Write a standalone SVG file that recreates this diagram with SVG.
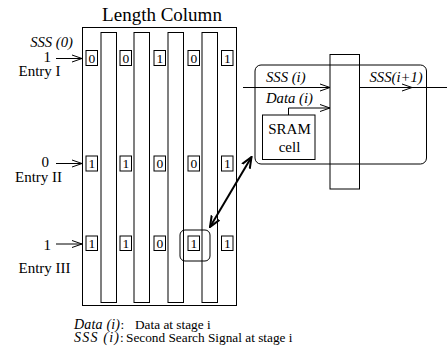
<svg xmlns="http://www.w3.org/2000/svg" width="447" height="352" viewBox="0 0 447 352">
  <style>
    text { font-family: "Liberation Serif", "Times New Roman", serif; fill: #000; }
    .it { font-style: italic; font-size: 14.7px; }
    .ln { fill: none; stroke: #000; stroke-width: 1; }
    .cell { fill: #fff; stroke: #000; stroke-width: 1; }
    .d { font-size: 13.5px; text-anchor: middle; }
    .lbl { font-size: 15px; }
    .leg { font-size: 13.3px; }
    .legi { font-size: 14px; font-style: italic; }
  </style>
  <defs>
    <marker id="open" viewBox="0 0 10 10" refX="10" refY="5" markerWidth="10" markerHeight="10" markerUnits="userSpaceOnUse" orient="auto">
      <path d="M0,1.5 L10,5 L0,8.5" fill="none" stroke="#000" stroke-width="1"/>
    </marker>
    <marker id="bold" viewBox="0 0 12 12" refX="11" refY="6" markerWidth="12" markerHeight="12" markerUnits="userSpaceOnUse" orient="auto-start-reverse">
      <path d="M0,1.5 L11,6 L0,10.5" fill="none" stroke="#000" stroke-width="2"/>
    </marker>
  </defs>

  <!-- length column array -->
  <g id="length-column">
    <text x="162" y="21" font-size="19" text-anchor="middle">Length Column</text>
    <rect class="ln" x="82.5" y="27.5" width="154" height="278"/>
    <rect class="ln" x="101" y="32.5" width="15.5" height="270"/>
    <rect class="ln" x="134" y="32.5" width="15.5" height="270"/>
    <rect class="ln" x="168" y="32.5" width="15.5" height="270"/>
    <rect class="ln" x="202" y="32.5" width="15.5" height="270"/>
  </g>

  <!-- entry I -->
  <g id="entry-1">
    <text class="it" x="73" y="46.5" text-anchor="end">SSS (0)</text>
    <text class="lbl" x="51" y="62" text-anchor="end">1</text>
    <text class="lbl" x="18.5" y="76">Entry I</text>
    <rect class="cell" x="86" y="50.5" width="11.5" height="15"/>
    <text class="d" x="91.8" y="62.5">0</text>
    <rect class="cell" x="120" y="50.5" width="11.5" height="15"/>
    <text class="d" x="125.8" y="62.5">0</text>
    <rect class="cell" x="154" y="50.5" width="11.5" height="15"/>
    <text class="d" x="159.8" y="62.5">1</text>
    <rect class="cell" x="188" y="50.5" width="11.5" height="15"/>
    <text class="d" x="193.8" y="62.5">0</text>
    <rect class="cell" x="221.5" y="50.5" width="11.5" height="15"/>
    <text class="d" x="227.3" y="62.5">1</text>
  </g>

  <!-- entry II -->
  <g id="entry-2">
    <text class="lbl" x="49" y="166.5" text-anchor="end">0</text>
    <text class="lbl" x="15" y="181.5">Entry II</text>
    <rect class="cell" x="86" y="156" width="11.5" height="15"/>
    <text class="d" x="91.8" y="168">1</text>
    <rect class="cell" x="120" y="156" width="11.5" height="15"/>
    <text class="d" x="125.8" y="168">1</text>
    <rect class="cell" x="154" y="156" width="11.5" height="15"/>
    <text class="d" x="159.8" y="168">0</text>
    <rect class="cell" x="188" y="156" width="11.5" height="15"/>
    <text class="d" x="193.8" y="168">0</text>
    <rect class="cell" x="221.5" y="156" width="11.5" height="15"/>
    <text class="d" x="227.3" y="168">1</text>
  </g>

  <!-- entry III -->
  <g id="entry-3">
    <text class="lbl" x="51" y="249.5" text-anchor="end">1</text>
    <text class="lbl" x="18.5" y="272.5">Entry III</text>
    <rect class="cell" x="86" y="236" width="11.5" height="14.5"/>
    <text class="d" x="91.8" y="248">1</text>
    <rect class="cell" x="120" y="236" width="11.5" height="14.5"/>
    <text class="d" x="125.8" y="248">1</text>
    <rect class="cell" x="154" y="236" width="11.5" height="14.5"/>
    <text class="d" x="159.8" y="248">0</text>
    <rect class="cell" x="188" y="236" width="11.5" height="14.5"/>
    <text class="d" x="193.8" y="248">1</text>
    <rect class="cell" x="221.5" y="236" width="11.5" height="14.5"/>
    <text class="d" x="227.3" y="248">1</text>
    <rect class="ln" x="180" y="230" width="30" height="31" rx="5"/>
  </g>

  <!-- stage detail -->
  <g id="stage">
    <rect class="ln" x="255" y="65" width="171.5" height="99" rx="6"/>
    <rect class="ln" x="330" y="54.5" width="29.5" height="134.5" fill="#fff"/>
    <text class="it" x="266" y="81.5">SSS (i)</text>
    <text class="it" x="369.5" y="81.5">SSS(i+1)</text>
    <text class="it" x="266" y="103">Data (i)</text>
  </g>

  <g id="sram">
    <rect class="ln" x="262.5" y="115" width="52.5" height="44.5"/>
    <text x="289.5" y="133.5" font-size="15" text-anchor="middle">SRAM</text>
    <text x="289.5" y="151.5" font-size="15" text-anchor="middle">cell</text>
  </g>

  <!-- connectors -->
  <g id="connectors">
    <line class="ln" x1="56" y1="58.5" x2="82" y2="58.5" marker-end="url(#open)"/>
    <line class="ln" x1="56" y1="163.5" x2="82" y2="163.5" marker-end="url(#open)"/>
    <line class="ln" x1="56" y1="244" x2="82" y2="244" marker-end="url(#open)"/>
    <line class="ln" x1="243" y1="87.5" x2="330" y2="87.5" marker-end="url(#open)"/>
    <line class="ln" x1="359.5" y1="87.5" x2="412" y2="87.5" marker-end="url(#open)"/>
    <line class="ln" x1="412" y1="87.5" x2="447" y2="87.5"/>
    <polyline class="ln" points="288.5,115 288.5,108 330,108" marker-end="url(#open)"/>
    <line x1="210" y1="227" x2="251.5" y2="157" stroke="#000" stroke-width="2" marker-start="url(#bold)" marker-end="url(#bold)"/>
  </g>

  <!-- legend -->
  <g id="legend">
    <text class="legi" x="74" y="328.5" textLength="46" lengthAdjust="spacing">Data (i)</text>
    <text class="leg" x="120.5" y="328.5">:</text>
    <text class="leg" x="135" y="328.5">Data at stage i</text>
    <text class="legi" x="74" y="341.5" textLength="45" lengthAdjust="spacing">SSS (i)</text>
    <text class="leg" x="120" y="341.5">:</text>
    <text class="leg" x="126" y="341.5">Second Search Signal at stage i</text>
  </g>
</svg>
